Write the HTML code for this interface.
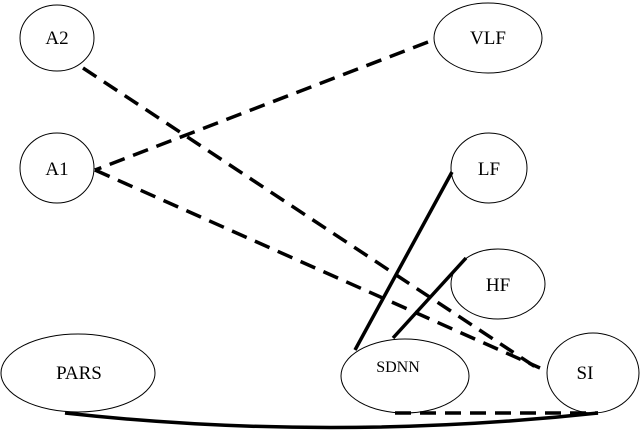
<!DOCTYPE html>
<html><head><style>body{margin:0;background:#fff}</style></head><body>
<svg width="641" height="433" viewBox="0 0 641 433" xmlns="http://www.w3.org/2000/svg" font-family="Liberation Serif, serif">
<g fill="none" stroke="#000" stroke-width="1">
<ellipse cx="57" cy="38" rx="37" ry="33"/>
<ellipse cx="488" cy="38" rx="54" ry="35"/>
<ellipse cx="57" cy="168" rx="37" ry="35"/>
<ellipse cx="489" cy="168" rx="38" ry="35"/>
<ellipse cx="498" cy="284" rx="47" ry="35"/>
<ellipse cx="78" cy="373" rx="77" ry="39"/>
<ellipse cx="405" cy="376" rx="64" ry="37"/>
<ellipse cx="593" cy="373" rx="46" ry="40"/>
</g>
<g stroke="#000" stroke-width="3.5" fill="none">
<line x1="83" y1="68" x2="540" y2="370" stroke-dasharray="16,9"/>
<line x1="428" y1="42" x2="95" y2="170" stroke-dasharray="16,9"/>
<line x1="95" y1="170" x2="540" y2="368" stroke-dasharray="16,9"/>
<line x1="452" y1="172" x2="355" y2="350"/>
<line x1="466" y1="258" x2="393" y2="338"/>
<line x1="395" y1="413" x2="598" y2="413" stroke-dasharray="16,9"/>
<path d="M65,413 Q330,442 598,413"/>
</g>
<g font-size="19" text-anchor="middle">
<text x="57" y="44">A2</text>
<text x="488" y="44">VLF</text>
<text x="57" y="175">A1</text>
<text x="489" y="175">LF</text>
<text x="498" y="291">HF</text>
<text x="79" y="379">PARS</text>
<text x="398" y="372" font-size="16">SDNN</text>
<text x="585" y="379">SI</text>
</g>
</svg>
</body></html>
